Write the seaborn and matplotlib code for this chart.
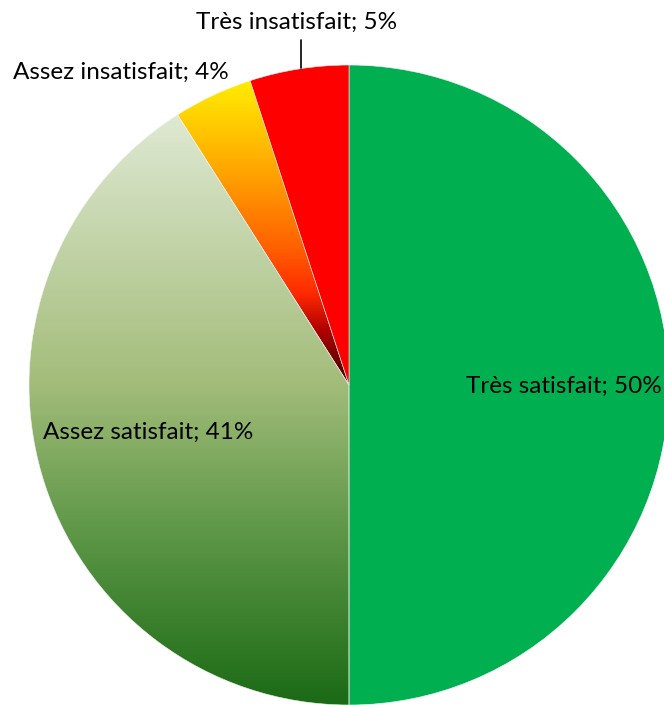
import numpy as np
import matplotlib
matplotlib.use("Agg")
import matplotlib.pyplot as plt
from matplotlib.colors import LinearSegmentedColormap
import seaborn as sns

categories = ["Très satisfait", "Assez satisfait", "Assez insatisfait", "Très insatisfait"]
values = [50, 41, 4, 5]
labels = [f"{c}; {v}%" for c, v in zip(categories, values)]

sns.set_theme(style="white")
plt.rcParams['font.family'] = ['Lato', 'DejaVu Sans']

W, H = 664, 705
fig = plt.figure(figsize=(W / 100, H / 100), dpi=100)
ax = fig.add_axes([0, 0, 1, 1])

cx, cy, R = 349, 320, 320
base_colors = ["#00b050", "#a4bd7b", "#ffa500", "#ff0000"]
wedges, _ = ax.pie(values, startangle=90, counterclock=False, center=(cx, cy), radius=R,
                   colors=base_colors, frame=True,
                   wedgeprops=dict(edgecolor="#f4f4f4", linewidth=0.4))

# gradient fills
grads = {
    1: LinearSegmentedColormap.from_list("g", [(0, "#dfe9d3"), (0.45, "#a4bd7b"), (0.7, "#5f9848"), (1.0, "#1b6a15")]),
    2: LinearSegmentedColormap.from_list("o", [(0, "#ffee00"), (0.3, "#ffa500"), (0.55, "#ff6000"),
                                               (0.7, "#ff2a00"), (0.82, "#b00000"), (1.0, "#400000")]),
}
for i, cmap in grads.items():
    w = wedges[i]
    w.set_facecolor("none")
    path = w.get_path()
    verts = path.vertices
    x0, x1 = verts[:, 0].min(), verts[:, 0].max()
    y0, y1 = verts[:, 1].min(), verts[:, 1].max()
    grad = np.linspace(0, 1, 256).reshape(-1, 1)
    im = ax.imshow(grad, cmap=cmap, aspect="auto", extent=(x0, x1, y0, y1), origin="upper",
                   interpolation="bilinear", zorder=w.get_zorder() - 0.01)
    im.set_clip_path(w)

ax.set_xlim(0, W)
ax.set_ylim(0, H)
ax.set_aspect("equal")
ax.axis("off")

fs = 17.5
ax.text(564, H - 386, labels[0], ha="center", va="center", fontsize=fs, color="black")
ax.text(148, H - 432, labels[1], ha="center", va="center", fontsize=fs, color="black")
ax.text(121, H - 72, labels[2], ha="center", va="center", fontsize=fs, color="black")
ax.text(297, H - 22, labels[3], ha="center", va="center", fontsize=fs, color="black")
ax.plot([301, 301], [H - 40, H - 68], color="black", linewidth=1.2)

fig.savefig("out.png", dpi=100)
